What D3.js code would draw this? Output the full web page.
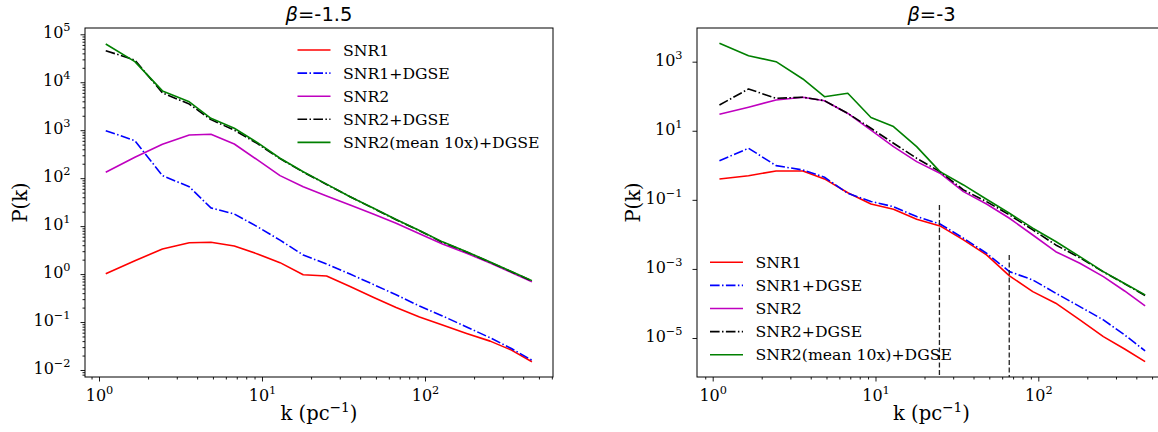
<!DOCTYPE html>
<html><head><meta charset="utf-8">
<script src="https://cdn.jsdelivr.net/npm/d3@7"></script>
<style>body{margin:0;background:#fff;overflow:hidden}svg{display:block}</style>
</head><body>
<svg id="c" width="1158" height="432"></svg>
<script>
// ---------------- data ----------------
const kVals = [1.10, 1.66, 2.45, 3.58, 4.86, 6.76, 9.38, 12.9, 17.9, 24.9, 34.7, 48.1, 66.5, 92.5, 128, 180, 251, 339, 453];
const seriesNames = ["SNR1", "SNR1+DGSE", "SNR2", "SNR2+DGSE", "SNR2(mean 10x)+DGSE"];
const panelTitles = ["-1.5", "-3"];

// beta = -1.5
const snr1A      = [1.02, 1.9, 3.33, 4.5, 4.6, 3.85, 2.63, 1.73, 0.97, 0.91, 0.55, 0.33, 0.2, 0.128, 0.087, 0.058, 0.04, 0.026, 0.0149];
const snr1DgseA  = [977, 605, 113, 66, 24, 17.9, 9.7, 5.1, 2.5, 1.62, 1.0, 0.61, 0.37, 0.216, 0.134, 0.079, 0.047, 0.028, 0.016];
const snr2A      = [133, 272, 508, 795, 822, 516, 240, 113, 66, 42.6, 27.5, 17.9, 11.5, 6.9, 4.24, 2.72, 1.7, 1.08, 0.69];
const snr2DgseA  = [45500, 29000, 6000, 3500, 1660, 1000, 525, 255, 134, 74, 41, 23.5, 13.6, 8.0, 4.6, 2.9, 1.76, 1.12, 0.72];
const snr2MeanA  = [62800, 26900, 6600, 3900, 1770, 1100, 550, 260, 136, 75, 41, 23.9, 13.8, 8.1, 4.7, 2.93, 1.78, 1.13, 0.73];

// beta = -3
const snr1B      = [0.403, 0.5, 0.686, 0.686, 0.403, 0.161, 0.076, 0.0534, 0.0275, 0.0176, 0.00692, 0.00254, 0.00063, 0.00022, 0.000102, 0.0000334, 0.000011, 0.0000048, 0.00000207];
const snr1DgseB  = [1.36, 3.12, 0.977, 0.733, 0.45, 0.155, 0.09, 0.0635, 0.0327, 0.02, 0.00774, 0.00285, 0.000835, 0.00048, 0.000198, 0.0000812, 0.0000334, 0.0000123, 0.00000424];
const snr2B      = [30, 48, 78, 93, 74, 31.7, 10.5, 3.47, 1.28, 0.59, 0.173, 0.076, 0.0293, 0.0096, 0.00316, 0.00146, 0.000598, 0.00023, 0.0000851];
const snr2DgseB  = [55.8, 162, 87, 93.5, 74, 32, 11.8, 4.35, 1.6, 0.655, 0.194, 0.089, 0.0366, 0.0135, 0.00495, 0.0021, 0.00082, 0.00037, 0.000169];
const snr2MeanB  = [3410, 1490, 1000, 316, 97, 122, 24.3, 13.2, 3.47, 0.655, 0.27, 0.104, 0.041, 0.0151, 0.0062, 0.00227, 0.000835, 0.00038, 0.000177];

// vertical dashed markers in beta=-3 panel: k and upper P value
const markerK   = [24.7, 66.3];
const markerTop = [0.071, 0.00254];

const xTickExp = [0, 1, 2];
const yTickExpA = [-2, -1, 0, 1, 2, 3, 4, 5];
const yTickExpB = [-5, -3, -1, 1, 3];

// ---------------- styles ----------------
const colors = ["#ff0000", "#0000ff", "#bf00bf", "#000000", "#008000"];
const dashes = [null, "9.6,2.4,1.5,2.4", null, "9.6,2.4,1.5,2.4", null];
const SERIF = "'DejaVu Serif', serif";
const SANS = "'DejaVu Sans', sans-serif";

const svg = d3.select("#c");

function sup(textSel, base, exp, baseSize, supSize, rise) {
  textSel.text(null);
  textSel.append("tspan").attr("font-size", baseSize).text(base);
  textSel.append("tspan").attr("font-size", supSize).attr("dy", -rise).text(exp);
}
function minus(n) { return (n < 0 ? "\u2212" : "") + Math.abs(n); }

function panel(cfg) {
  const x = d3.scaleLog().domain(cfg.xDom).range([cfg.x0, cfg.x1]);
  const y = d3.scaleLog().domain(cfg.yDom).range([cfg.y1, cfg.y0]);
  const g = svg.append("g");
  const clipId = "clip" + cfg.id;
  svg.append("clipPath").attr("id", clipId).append("rect")
    .attr("x", cfg.x0).attr("y", cfg.y0).attr("width", cfg.x1 - cfg.x0).attr("height", cfg.y1 - cfg.y0);

  // x major ticks
  const xMaj = xTickExp.map(e => Math.pow(10, e));
  const xMin = [];
  for (let e = -1; e <= 2; e++) for (let m = 2; m <= 9; m++) {
    const v = m * Math.pow(10, e);
    if (v > cfg.xDom[0] && v < cfg.xDom[1]) xMin.push(v);
  }
  const gx = g.append("g").attr("transform", `translate(0,${cfg.y1})`)
    .call(d3.axisBottom(x).tickValues(xMaj).tickSize(4.5).tickSizeOuter(0).tickPadding(10));
  gx.select(".domain").remove();
  gx.selectAll(".tick text").each(function (d) {
    const t = d3.select(this);
    t.attr("font-family", SERIF).attr("fill", "#000").attr("y", 23.5).attr("dy", null);
    sup(t, "10", minus(Math.round(Math.log10(d))), 16, 11.3, 7);
  });
  const gxm = g.append("g").attr("transform", `translate(0,${cfg.y1})`)
    .call(d3.axisBottom(x).tickValues(xMin).tickSize(2.5).tickFormat(""));
  gxm.select(".domain").remove();

  // y ticks
  const yMaj = cfg.yExp.map(e => Math.pow(10, e));
  const gy = g.append("g").attr("transform", `translate(${cfg.x0},0)`)
    .call(d3.axisLeft(y).tickValues(yMaj).tickSize(4.5).tickSizeOuter(0).tickPadding(10));
  gy.select(".domain").remove();
  gy.selectAll(".tick text").each(function (d) {
    const t = d3.select(this);
    t.attr("font-family", SERIF).attr("fill", "#000").attr("dy", "0.34em");
    sup(t, "10", minus(Math.round(Math.log10(d))), 16, 11.3, 7);
  });
  if (cfg.yMinor) {
    const yMin = [];
    for (let e = -3; e <= 5; e++) for (let m = 2; m <= 9; m++) {
      const v = m * Math.pow(10, e);
      if (v > cfg.yDom[0] && v < cfg.yDom[1]) yMin.push(v);
    }
    const gym = g.append("g").attr("transform", `translate(${cfg.x0},0)`)
      .call(d3.axisLeft(y).tickValues(yMin).tickSize(2.5).tickFormat(""));
    gym.select(".domain").remove();
  }
  g.selectAll(".tick line").attr("stroke", "#000").attr("stroke-width", 0.9);

  // lines
  const line = d3.line().x(d => x(d[0])).y(d => y(d[1]));
  const lg = g.append("g").attr("clip-path", `url(#${clipId})`);
  cfg.series.forEach((vals, i) => {
    lg.append("path")
      .datum(kVals.map((k, j) => [k, vals[j]]))
      .attr("d", line)
      .attr("fill", "none")
      .attr("stroke", colors[i])
      .attr("stroke-width", 1.6)
      .attr("stroke-linejoin", "round")
      .attr("stroke-dasharray", dashes[i]);
  });
  if (cfg.markers) {
    cfg.markers.k.forEach((k, i) => {
      lg.append("line")
        .attr("x1", x(k)).attr("x2", x(k))
        .attr("y1", y(cfg.markers.top[i])).attr("y2", cfg.y1)
        .attr("stroke", "#222").attr("stroke-width", 1.3).attr("stroke-dasharray", "5,2.5");
    });
  }

  // frame
  g.append("rect").attr("x", cfg.x0).attr("y", cfg.y0)
    .attr("width", cfg.x1 - cfg.x0).attr("height", cfg.y1 - cfg.y0)
    .attr("fill", "none").attr("stroke", "#000").attr("stroke-width", 1);

  // title
  const cx = (cfg.x0 + cfg.x1) / 2;
  const tt = g.append("text").attr("x", cx).attr("y", 21).attr("text-anchor", "middle")
    .attr("font-family", SANS).attr("font-size", 19.5).attr("fill", "#000");
  tt.append("tspan").attr("font-style", "italic").text("\u03B2");
  tt.append("tspan").text("=" + cfg.title);

  // axis labels
  const xl = g.append("text").attr("x", cx).attr("y", 420).attr("text-anchor", "middle")
    .attr("font-family", SERIF).attr("font-size", 19.5).attr("fill", "#000");
  xl.append("tspan").text("k (pc");
  xl.append("tspan").attr("font-size", 13.7).attr("dy", -8.5).text("\u22121");
  xl.append("tspan").attr("dy", 8.5).text(")");

  g.append("text").attr("transform", `translate(${cfg.ylx},${(cfg.y0 + cfg.y1) / 2}) rotate(-90)`)
    .attr("text-anchor", "middle").attr("font-family", SERIF).attr("font-size", 19.5)
    .attr("fill", "#000").text("P(k)");

  // legend
  const leg = g.append("g");
  seriesNames.forEach((name, i) => {
    const yy = cfg.legY + i * 23.1;
    leg.append("line").attr("x1", cfg.legX).attr("x2", cfg.legX + 33)
      .attr("y1", yy).attr("y2", yy)
      .attr("stroke", colors[i]).attr("stroke-width", 1.6)
      .attr("stroke-dasharray", dashes[i]);
    leg.append("text").attr("x", cfg.legX + 45.5).attr("y", yy).attr("dy", "0.36em")
      .attr("font-family", SERIF).attr("font-size", 15.7).attr("fill", "#000").text(name);
  });
}

panel({
  id: "A", x0: 85, x1: 553, y0: 28, y1: 377,
  xDom: [Math.pow(10, -0.0859), Math.pow(10, 2.7853)],
  yDom: [Math.pow(10, -2.146), Math.pow(10, 5.131)],
  yExp: yTickExpA, yMinor: true,
  series: [snr1A, snr1DgseA, snr2A, snr2DgseA, snr2MeanA],
  title: panelTitles[0], ylx: 27, legX: 297.5, legY: 50
});
panel({
  id: "B", x0: 697, x1: 1166, y0: 28, y1: 377,
  xDom: [Math.pow(10, -0.0964), Math.pow(10, 2.7844)],
  yDom: [Math.pow(10, -6.129), Math.pow(10, 3.975)],
  yExp: yTickExpB, yMinor: false,
  series: [snr1B, snr1DgseB, snr2B, snr2DgseB, snr2MeanB],
  markers: { k: markerK, top: markerTop },
  title: panelTitles[1], ylx: 639.5, legX: 710, legY: 262.3
});
</script>
</body></html>
